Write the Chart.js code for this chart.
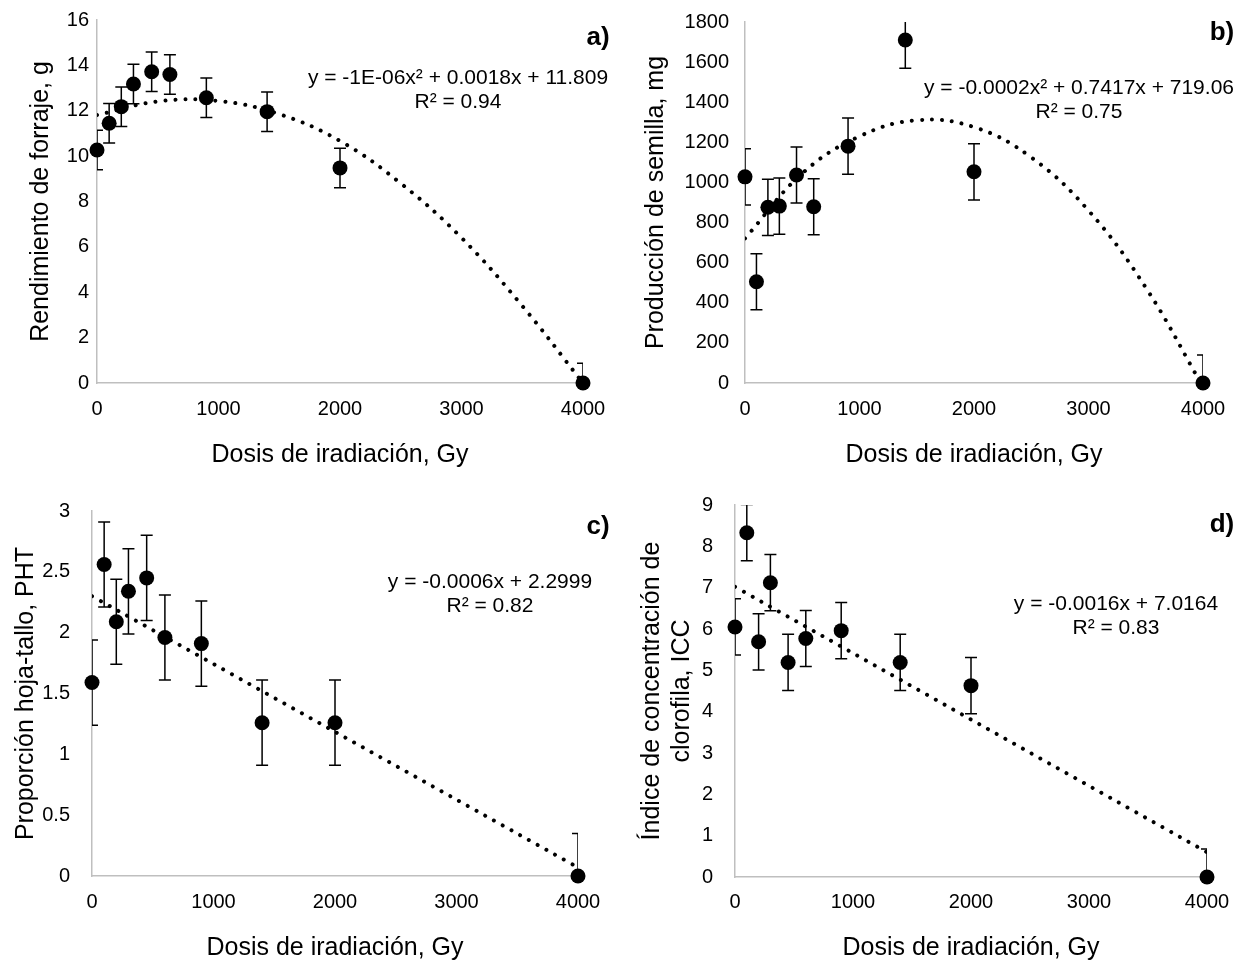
<!DOCTYPE html>
<html><head><meta charset="utf-8">
<script src="https://cdn.jsdelivr.net/npm/chart.js@4.4.0/dist/chart.umd.min.js"></script>
<style>
html,body{margin:0;padding:0;background:#fff;width:1247px;height:961px;overflow:hidden}
.p{position:absolute}
canvas{display:block}
</style></head><body>
<div class="p" style="left:0;top:0"><canvas id="ca" width="623" height="480"></canvas></div>
<div class="p" style="left:623px;top:0"><canvas id="cb" width="624" height="480"></canvas></div>
<div class="p" style="left:0;top:480px"><canvas id="cc" width="623" height="481"></canvas></div>
<div class="p" style="left:623px;top:480px"><canvas id="cd" width="624" height="481"></canvas></div>
<script>
// ---- data ----
const doses = [0, 100, 200, 300, 450, 600, 900, 1400, 2000, 4000];
const forraje = [10.27, 11.45, 12.18, 13.18, 13.72, 13.6, 12.57, 11.96, 9.48, 0];
const errForraje = [0.87, 0.87, 0.87, 0.87, 0.87, 0.87, 0.87, 0.87, 0.87, 0.87];
const semilla = [1028, 505, 876, 882, 1037, 879, 1181, 1710, 1053, 0];
const errSemilla = [140, 140, 140, 140, 140, 140, 140, 140, 140, 140];
const pht = [1.59, 2.56, 2.09, 2.34, 2.45, 1.96, 1.91, 1.26, 1.26, 0];
const errPht = [0.35, 0.35, 0.35, 0.35, 0.35, 0.35, 0.35, 0.35, 0.35, 0.35];
const icc = [6.05, 8.33, 5.69, 7.12, 5.19, 5.77, 5.96, 5.19, 4.63, 0];
const errIcc = [0.68, 0.68, 0.68, 0.68, 0.68, 0.68, 0.68, 0.68, 0.68, 0.68];

// trendlines
const trendQuadDoses = [0, 500, 1000, 1500, 2000, 2500, 3000, 3500, 4000];
const trendForraje = [11.81, 12.41, 12.43, 11.85, 10.67, 8.8, 6.4, 3.4, 0];
const trendSemilla = [721, 1045, 1230, 1310, 1276, 1125, 860, 476, -20];
const trendLinDoses = [0, 4000];
const trendPht = [2.30, 0.07];
const trendIcc = [7.02, 0.60];

// tick labels
const xTicks = [0, 1000, 2000, 3000, 4000];
const yTicksA = [0, 2, 4, 6, 8, 10, 12, 14, 16];
const yTicksB = [0, 200, 400, 600, 800, 1000, 1200, 1400, 1600, 1800];
const yTicksC = [0, 0.5, 1, 1.5, 2, 2.5, 3];
const yTicksD = [0, 1, 2, 3, 4, 5, 6, 7, 8, 9];

const FONT = "'Liberation Sans', Arial, sans-serif";
const xTitle = 'Dosis de iradiación, Gy';

function pts(xs, ys){ return xs.map((d,i)=>({x:d, y:ys[i]})); }

function errPlugin(xs, ys, err){
  return {
    id:'errbars',
    beforeDatasetsDraw(chart){
      const {ctx, chartArea:a, scales:{x,y}} = chart;
      ctx.save();
      ctx.beginPath(); ctx.rect(a.left, a.top, a.right-a.left, a.bottom-a.top); ctx.clip();
      ctx.strokeStyle = '#000'; ctx.lineWidth = 1.5;
      xs.forEach((d,i)=>{
        const px = x.getPixelForValue(d);
        const t = y.getPixelForValue(ys[i]+err[i]);
        const b = y.getPixelForValue(ys[i]-err[i]);
        ctx.beginPath();
        ctx.moveTo(px,t); ctx.lineTo(px,b);
        ctx.moveTo(px-6,t); ctx.lineTo(px+6,t);
        ctx.moveTo(px-6,b); ctx.lineTo(px+6,b);
        ctx.stroke();
      });
      ctx.restore();
    }
  };
}

function textPlugin(eq, r2, ex, ey, label, lx, ly){
  return {
    id:'texts',
    afterDraw(chart){
      const ctx = chart.ctx;
      ctx.save();
      ctx.fillStyle = '#000';
      ctx.textAlign = 'center'; ctx.textBaseline = 'middle';
      ctx.font = "21px " + FONT;
      ctx.fillText(eq, ex, ey);
      ctx.fillText(r2, ex, ey+24);
      ctx.font = "bold 26px " + FONT;
      ctx.fillText(label, lx, ly);
      ctx.restore();
    }
  };
}

function makeChart(id, cfg){
  const tickFont = {family: FONT, size: 20};
  const titleFont = {family: FONT, size: 25, lineHeight: 1.2};
  new Chart(document.getElementById(id), {
    type: 'scatter',
    data: {
      datasets: [
        {data: pts(doses, cfg.vals), pointRadius: 7.5, pointHoverRadius: 7.5,
         pointBackgroundColor: '#000', pointBorderWidth: 0, showLine: false, clip: false, order: 0},
        {data: pts(cfg.tx, cfg.ty), showLine: true, borderColor: '#000', borderWidth: 4,
         borderDash: [0.01, 10], borderCapStyle: 'round', pointRadius: 0, tension: 0.4,
         fill: false, order: 1}
      ]
    },
    options: {
      responsive: false, animation: false, devicePixelRatio: 1,
      layout: {padding: cfg.pad},
      plugins: {legend: {display: false}, tooltip: {enabled: false}},
      events: [],
      scales: {
        x: {
          type: 'linear', min: 0, max: 4000,
          afterBuildTicks: s => { s.ticks = xTicks.map(v=>({value:v})); },
          ticks: {color: '#000', font: tickFont, padding: cfg.xtp, maxRotation: 0, autoSkip: false,
                  callback: v => String(v)},
          grid: {display: false, drawTicks: false, tickLength: 0},
          border: {display: true, color: '#bfbfbf', width: 1.5},
          title: {display: true, text: xTitle, color: '#000',
                  font: {family: FONT, size: 25, lineHeight: cfg.xlh || 1.2}, padding: {top: 0, bottom: cfg.xtitlePad}},
          afterFit: s => { s.height = cfg.xh; s.paddingLeft = 0; s.paddingRight = 0; }
        },
        y: {
          type: 'linear', min: cfg.yt[0], max: cfg.yt[cfg.yt.length-1],
          afterBuildTicks: s => { s.ticks = cfg.yt.map(v=>({value:v})); },
          ticks: {color: '#000', font: tickFont, padding: cfg.ytp, autoSkip: false, callback: v => String(v)},
          grid: {display: false, drawTicks: false, tickLength: 0},
          border: {display: true, color: '#bfbfbf', width: 1.5},
          title: {display: true, text: cfg.ytitle, color: '#000', font: titleFont,
                  padding: {top: cfg.ytitlePad, bottom: 0}},
          afterFit: s => { s.width = cfg.yw; s.paddingTop = 0; s.paddingBottom = 0; }
        }
      }
    },
    plugins: [errPlugin(doses, cfg.vals, cfg.err), textPlugin(cfg.eq, cfg.r2, cfg.ex, cfg.ey, cfg.label, cfg.lx, cfg.ly)]
  });
}

makeChart('ca', {vals: forraje, err: errForraje, tx: trendQuadDoses, ty: trendForraje, yt: yTicksA,
  ytitle: 'Rendimiento de forraje, g', pad: {left:0, top:20, right:40, bottom:0},
  yw: 97, xh: 97, xtp: 14, ytp: 8, xtitlePad: 10, ytitlePad: 26,
  eq: 'y = -1E-06x² + 0.0018x + 11.809', r2: 'R² = 0.94', ex: 458, ey: 78, label: 'a)', lx: 598, ly: 38});

makeChart('cb', {vals: semilla, err: errSemilla, tx: trendQuadDoses, ty: trendSemilla, yt: yTicksB,
  ytitle: 'Producción de semilla, mg', pad: {left:0, top:22, right:44, bottom:0},
  yw: 122, xh: 97, xtp: 14, ytp: 16, xtitlePad: 10, ytitlePad: 18,
  eq: 'y = -0.0002x² + 0.7417x + 719.06', r2: 'R² = 0.75', ex: 456, ey: 88, label: 'b)', lx: 599, ly: 33});

makeChart('cc', {vals: pht, err: errPht, tx: trendLinDoses, ty: trendPht, yt: yTicksC,
  ytitle: 'Proporción hoja-tallo, PHT', pad: {left:0, top:31, right:45, bottom:0},
  yw: 92, xh: 85, xtp: 14, ytp: 22, xtitlePad: 0.5, xlh: 1.0, ytitlePad: 11,
  eq: 'y = -0.0006x + 2.2999', r2: 'R² = 0.82', ex: 490, ey: 102, label: 'c)', lx: 598, ly: 47});

makeChart('cd', {vals: icc, err: errIcc, tx: trendLinDoses, ty: trendIcc, yt: yTicksD,
  ytitle: ['Índice de concentración de', 'clorofila, ICC'], pad: {left:0, top:25, right:40, bottom:0},
  yw: 112, xh: 84, xtp: 13, ytp: 22, xtitlePad: 0.5, xlh: 1.0, ytitlePad: 14,
  eq: 'y = -0.0016x + 7.0164', r2: 'R² = 0.83', ex: 493, ey: 124, label: 'd)', lx: 599, ly: 45});
</script>
</body></html>
